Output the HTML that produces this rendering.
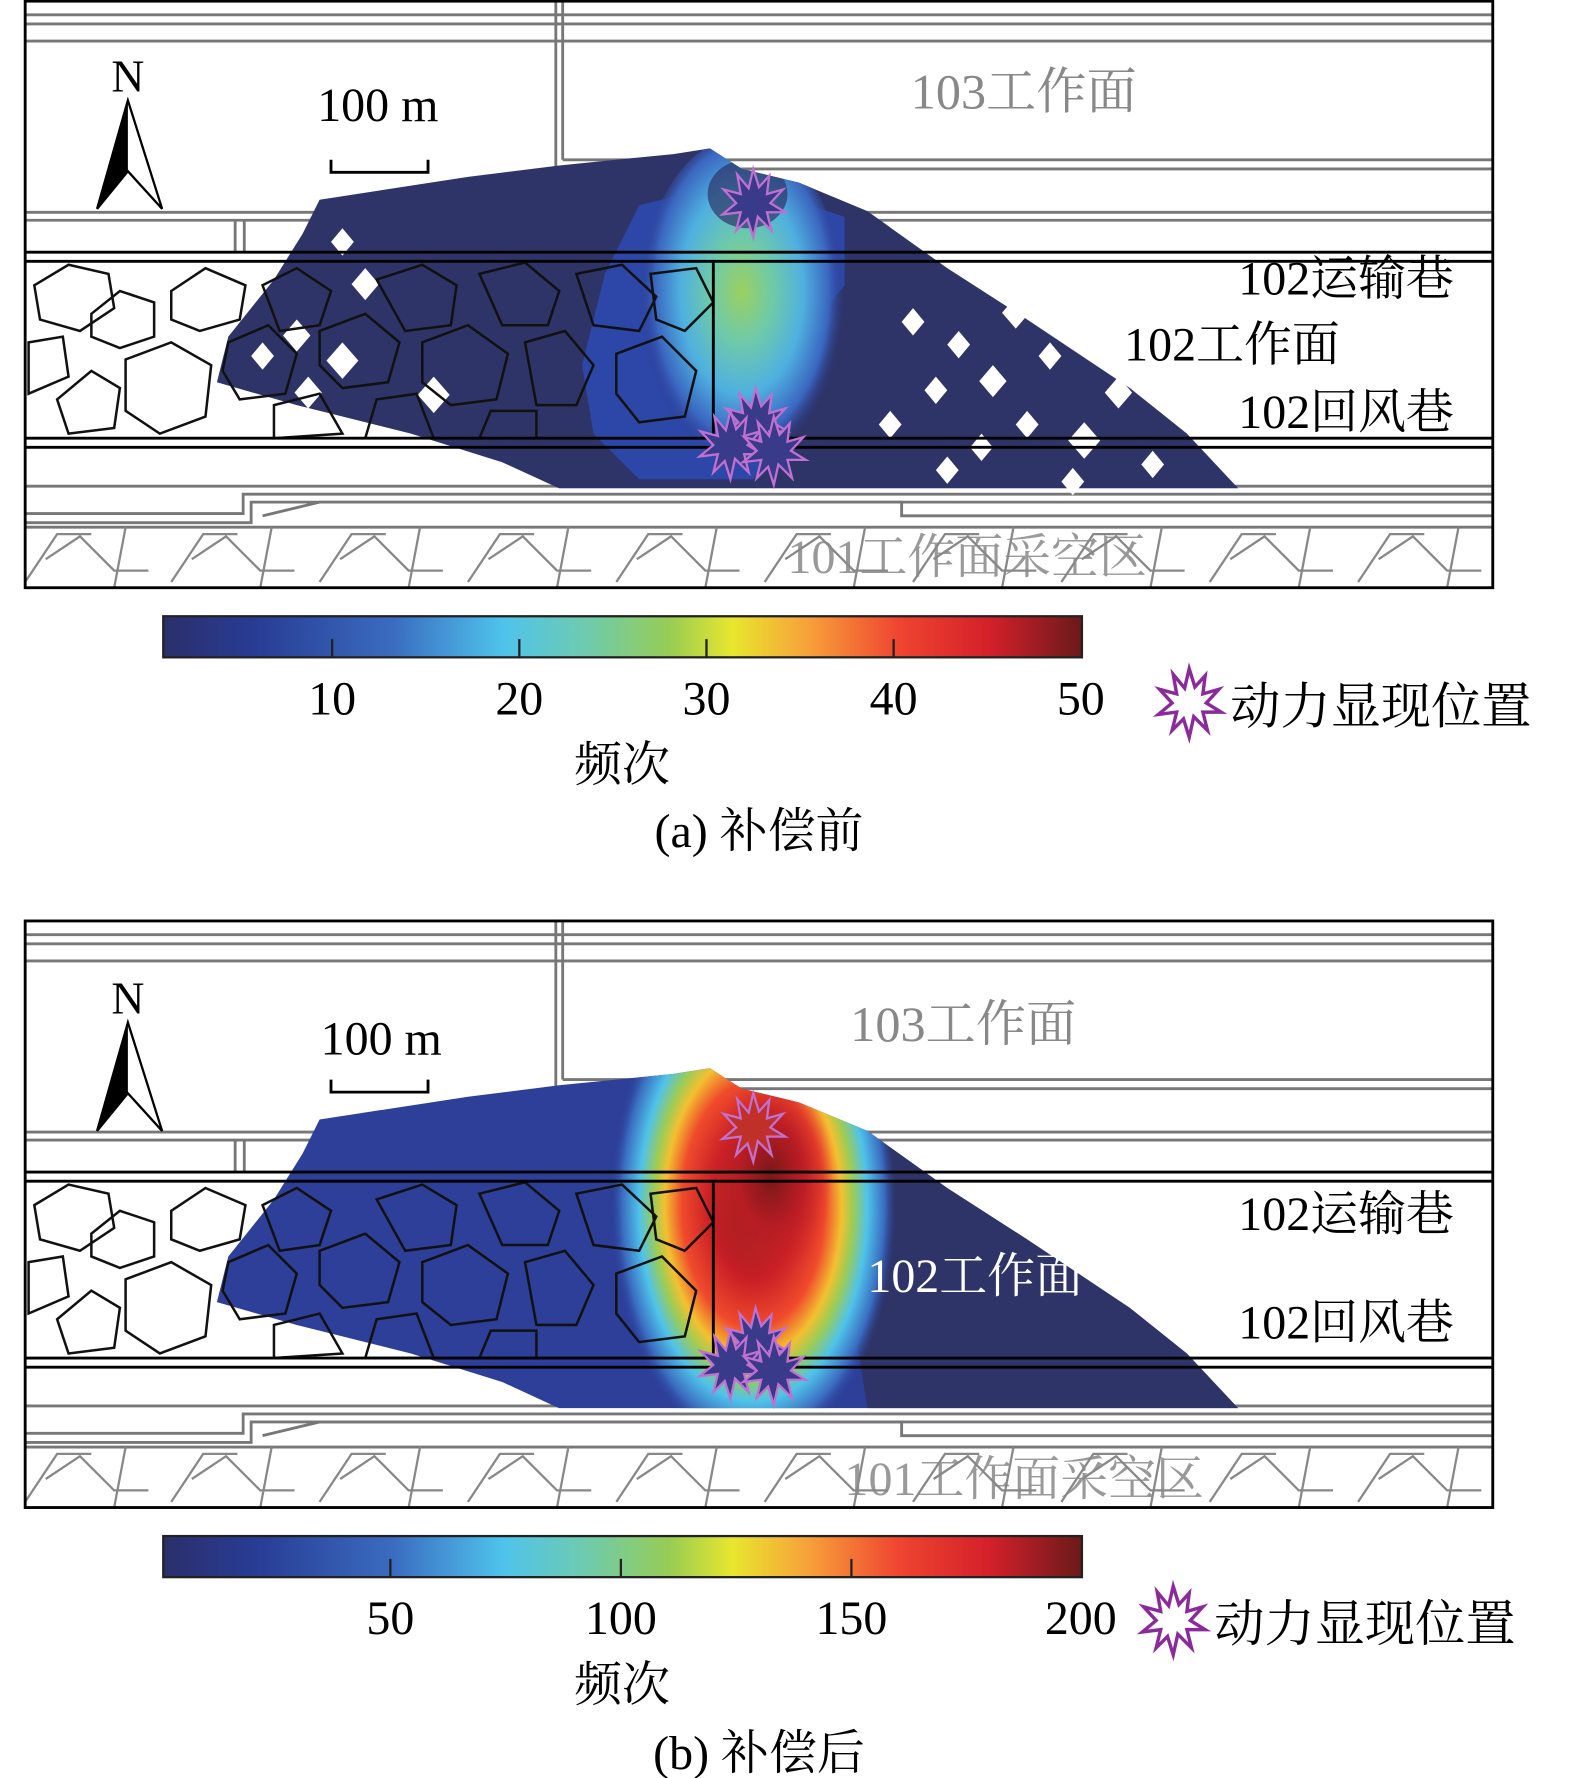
<!DOCTYPE html>
<html><head><meta charset="utf-8"><style>
html,body{margin:0;padding:0;background:#fff;}
svg{display:block;}
text{font-family:"Liberation Serif","Noto Serif CJK SC",serif;}
</style></head><body>
<svg width="1575" height="1778" viewBox="0 0 1380 1558" xmlns="http://www.w3.org/2000/svg">
<defs>
<linearGradient id="cb" x1="0" x2="1" y1="0" y2="0">
<stop offset="0" stop-color="#2b2f6b"/><stop offset="0.1" stop-color="#283c94"/>
<stop offset="0.25" stop-color="#3a6cc0"/><stop offset="0.37" stop-color="#4fc3ec"/>
<stop offset="0.46" stop-color="#6ecbae"/><stop offset="0.55" stop-color="#97cc55"/>
<stop offset="0.62" stop-color="#e8e62d"/><stop offset="0.7" stop-color="#f7a23a"/>
<stop offset="0.8" stop-color="#ef4530"/><stop offset="0.9" stop-color="#d3202a"/>
<stop offset="1" stop-color="#6a1a1a"/></linearGradient>
<radialGradient id="ha" cx="0.5" cy="0.45" r="0.5">
<stop offset="0" stop-color="#9bd060"/><stop offset="0.3" stop-color="#6fcaa8"/>
<stop offset="0.6" stop-color="#4fb0e0"/><stop offset="0.85" stop-color="#3a66c0"/>
<stop offset="1" stop-color="#2c3a8a" stop-opacity="0"/></radialGradient>
<radialGradient id="hb" cx="0.5" cy="0.5" r="0.5">
<stop offset="0" stop-color="#7a1818"/><stop offset="0.3" stop-color="#c81e26"/>
<stop offset="0.5" stop-color="#f04a2c"/><stop offset="0.62" stop-color="#f3c030"/>
<stop offset="0.7" stop-color="#9ccc55"/><stop offset="0.8" stop-color="#4fc3ea"/>
<stop offset="0.92" stop-color="#3a6cc0"/><stop offset="1" stop-color="#2e44a0" stop-opacity="0"/></radialGradient>
<radialGradient id="hc" cx="0.5" cy="0.5" r="0.5">
<stop offset="0" stop-color="#7a1818"/><stop offset="0.5" stop-color="#b81c24"/>
<stop offset="1" stop-color="#d82a28" stop-opacity="0"/></radialGradient>
<clipPath id="blob"><path d="M280,175 L410,155 L490,145 L590,135 L622,130 L650,148 L700,160 L760,185 L830,235 L900,280 L990,340 L1040,380 L1085,428 L490,428 L440,405 L360,380 L260,355 L190,335 L200,295 L240,245 L265,205 Z"/></clipPath>
<path id="star" d="M0,-30 L5,-14 L14,-24 L12,-8 L26,-12 L15,0 L28,8 L12,8 L16,24 L4,12 L0,30 L-5,14 L-15,24 L-11,8 L-27,10 L-15,0 L-26,-12 L-11,-8 L-14,-25 L-4,-13 Z"/>
<g id="base">
 <g fill="none" stroke="#777" stroke-width="2.5">
  <line x1="22" y1="13" x2="1308" y2="13"/><line x1="22" y1="21" x2="1308" y2="21"/><line x1="22" y1="36" x2="1308" y2="36"/>
  <line x1="487" y1="0" x2="487" y2="148"/><line x1="493" y1="0" x2="493" y2="140"/>
  <line x1="493" y1="140" x2="1308" y2="140"/><line x1="487" y1="148" x2="1308" y2="148"/>
  <line x1="22" y1="186" x2="1308" y2="186"/><line x1="22" y1="193" x2="1308" y2="193"/>
  <line x1="206" y1="193" x2="206" y2="220"/><line x1="214" y1="193" x2="214" y2="220"/>
  <line x1="22" y1="426" x2="1308" y2="426"/>
  <polyline points="22,450 213,450 213,433 1308,433"/>
  <polyline points="22,458 220,458 220,440 1308,440"/>
  <polyline points="230,452 280,440 790,440 790,452 1308,452"/>
  <line x1="22" y1="462" x2="1308" y2="462"/>
 </g>
 <g fill="none" stroke="#888" stroke-width="2">
  <path d="M22,510 L50,468 L80,468 M40,490 L70,470 L100,500 L130,500 M110,462 L100,515"/>
  <path d="M150,510 L178,468 L208,468 M168,490 L198,470 L228,500 L258,500 M238,462 L228,515"/>
  <path d="M280,510 L308,468 L338,468 M298,490 L328,470 L358,500 L388,500 M368,462 L358,515"/>
  <path d="M410,510 L438,468 L468,468 M428,490 L458,470 L488,500 L518,500 M498,462 L488,515"/>
  <path d="M540,510 L568,468 L598,468 M558,490 L588,470 L618,500 L648,500 M628,462 L618,515"/>
  <path d="M670,510 L698,468 L728,468 M688,490 L718,470 L748,500 L778,500 M758,462 L748,515"/>
  <path d="M800,510 L828,468 L858,468 M818,490 L848,470 L878,500 L908,500 M888,462 L878,515"/>
  <path d="M930,510 L958,468 L988,468 M948,490 L978,470 L1008,500 L1038,500 M1018,462 L1008,515"/>
  <path d="M1060,510 L1088,468 L1118,468 M1078,490 L1108,470 L1138,500 L1168,500 M1148,462 L1138,515"/>
  <path d="M1190,510 L1218,468 L1248,468 M1208,490 L1238,470 L1268,500 L1298,500 M1278,462 L1268,515"/>
 </g>
</g>
<g id="goaf" fill="none" stroke="#111" stroke-width="2.2">
 <path d="M30,250 L60,232 L95,240 L100,270 L70,290 L35,280 Z"/>
 <path d="M80,275 L105,255 L135,265 L135,295 L105,305 L80,295 Z"/>
 <path d="M150,255 L180,235 L215,250 L210,280 L175,290 L150,280 Z"/>
 <path d="M25,300 L55,295 L60,330 L25,345 Z"/>
 <path d="M50,350 L80,325 L105,340 L100,375 L60,380 Z"/>
 <path d="M110,315 L150,300 L185,320 L180,365 L140,380 L110,360 Z"/>
 <path d="M230,250 L260,235 L290,255 L280,285 L245,290 Z"/>
 <path d="M200,300 L235,285 L260,310 L250,345 L210,350 L195,325 Z"/>
 <path d="M280,290 L320,275 L350,300 L340,335 L300,340 L280,320 Z"/>
 <path d="M240,355 L280,345 L300,380 L240,384 Z"/>
 <path d="M330,245 L370,232 L400,250 L395,285 L355,290 Z"/>
 <path d="M370,300 L410,285 L445,310 L435,350 L395,355 L370,335 Z"/>
 <path d="M420,240 L460,230 L490,255 L480,285 L440,285 Z"/>
 <path d="M460,300 L495,290 L520,320 L505,355 L470,355 Z"/>
 <path d="M505,240 L545,232 L575,260 L560,290 L520,285 Z"/>
 <path d="M540,310 L580,295 L610,325 L600,365 L560,370 L540,345 Z"/>
 <path d="M570,240 L610,235 L625,265 L600,290 L575,280 Z"/>
 <path d="M330,350 L365,345 L380,384 L320,384 Z"/>
 <path d="M430,360 L470,360 L470,384 L420,384 Z"/>
</g>
</defs>

<!-- PANEL A -->
<g>
<use href="#base"/>
<g clip-path="url(#blob)">
<rect x="0" y="0" width="1380" height="520" fill="#2e3468"/>
<path d="M560,180 L620,165 L680,170 L740,190 L740,250 L700,300 L690,380 L660,420 L560,420 L520,380 L510,320 L530,240 Z" fill="#2d47a8"/>
<ellipse cx="650" cy="270" rx="90" ry="150" fill="url(#ha)"/>
<ellipse cx="655" cy="170" rx="35" ry="30" fill="#2e3468" opacity="0.7"/>
</g>
<g fill="#fff">
 <path d="M800,270 l10,12 -10,12 -10,-12Z"/><path d="M840,290 l10,12 -10,12 -10,-12Z"/><path d="M820,330 l10,12 -10,12 -10,-12Z"/>
 <path d="M870,320 l12,14 -12,14 -12,-14Z"/><path d="M900,360 l10,12 -10,12 -10,-12Z"/><path d="M780,360 l10,12 -10,12 -10,-12Z"/>
 <path d="M860,380 l10,12 -10,12 -10,-12Z"/><path d="M950,370 l14,16 -14,16 -14,-16Z"/><path d="M980,330 l12,14 -12,14 -12,-14Z"/>
 <path d="M920,300 l10,12 -10,12 -10,-12Z"/><path d="M830,400 l10,12 -10,12 -10,-12Z"/><path d="M1010,395 l10,12 -10,12 -10,-12Z"/>
 <path d="M890,260 l12,14 -12,14 -12,-14Z"/><path d="M940,410 l10,12 -10,12 -10,-12Z"/>
 <path d="M300,200 l10,12 -10,12 -10,-12Z"/><path d="M320,235 l12,14 -12,14 -12,-14Z"/><path d="M260,280 l12,14 -12,14 -12,-14Z"/>
 <path d="M300,300 l14,16 -14,16 -14,-16Z"/><path d="M380,330 l14,16 -14,16 -14,-16Z"/><path d="M230,300 l10,12 -10,12 -10,-12Z"/>
 <path d="M270,330 l12,14 -12,14 -12,-14Z"/>
</g>
<use href="#goaf"/>
<g stroke="#000" stroke-width="2.5" fill="none">
 <line x1="22" y1="221" x2="1308" y2="221"/><line x1="22" y1="229" x2="1308" y2="229"/>
 <line x1="22" y1="384" x2="1308" y2="384"/><line x1="22" y1="392" x2="1308" y2="392"/>
 <line x1="625" y1="229" x2="625" y2="384"/>
 <rect x="22" y="1" width="1286" height="514"/>
</g>
<g fill="#3a3a8a" stroke="#c070d0" stroke-width="2">
 <use href="#star" x="660" y="178"/>
 <use href="#star" x="662" y="370"/><use href="#star" x="640" y="390"/><use href="#star" x="678" y="395"/>
</g>
<text x="112" y="80" font-size="40" text-anchor="middle">N</text>
<path d="M112,88 L85,183 L112,150 L142,183 Z" fill="#fff" stroke="#000" stroke-width="2"/><path d="M112,88 L85,183 L112,150 Z"/>
<text x="331" y="106" font-size="42" text-anchor="middle">100 m</text>
<path d="M290,140 L290,151 L375,151 L375,140" fill="none" stroke="#000" stroke-width="2.5"/>
<text x="798" y="95" font-size="44" fill="#888">103工作面</text>
<text x="1085" y="258" font-size="42">102运输巷</text>
<text x="985" y="316" font-size="42">102工作面</text>
<text x="1085" y="375" font-size="42">102回风巷</text>
<text x="690" y="502" font-size="42" fill="#888" opacity="0.85">101工作面采空区</text>
<rect x="143" y="540" width="805" height="36" fill="url(#cb)" stroke="#222" stroke-width="2"/>
<g stroke="#222" stroke-width="2"><line x1="291" y1="560" x2="291" y2="576"/><line x1="455" y1="560" x2="455" y2="576"/><line x1="619" y1="560" x2="619" y2="576"/><line x1="783" y1="560" x2="783" y2="576"/></g>
<g font-size="42" text-anchor="middle"><text x="291" y="626">10</text><text x="455" y="626">20</text><text x="619" y="626">30</text><text x="783" y="626">40</text><text x="947" y="626">50</text></g>
<use href="#star" x="1042" y="616" fill="#fff" stroke="#8b2a9b" stroke-width="3"/>
<text x="1078" y="634" font-size="44">动力显现位置</text>
<text x="545" y="684" font-size="42" text-anchor="middle">频次</text>
<text x="665" y="742" font-size="42" text-anchor="middle">(a) 补偿前</text>
</g>

<!-- PANEL B -->
<g transform="translate(0,806)">
<use href="#base"/>
<g clip-path="url(#blob)">
<rect x="0" y="0" width="1380" height="520" fill="#2d3f99"/>
<path d="M760,185 L830,235 L900,280 L990,340 L1040,380 L1085,428 L760,428 L740,300 Z" fill="#2e3468"/>
<ellipse cx="660" cy="250" rx="125" ry="215" fill="url(#hb)"/>
<ellipse cx="675" cy="225" rx="55" ry="90" fill="url(#hc)"/>
</g>
<use href="#goaf"/>
<g stroke="#000" stroke-width="2.5" fill="none">
 <line x1="22" y1="221" x2="1308" y2="221"/><line x1="22" y1="229" x2="1308" y2="229"/>
 <line x1="22" y1="384" x2="1308" y2="384"/><line x1="22" y1="392" x2="1308" y2="392"/>
 <line x1="625" y1="229" x2="625" y2="384"/>
 <rect x="22" y="1" width="1286" height="514"/>
</g>
<g fill="#c03028" stroke="#c070d0" stroke-width="2">
 <use href="#star" x="660" y="182"/>
</g>
<g fill="#3a3a8a" stroke="#c070d0" stroke-width="2">
 <use href="#star" x="662" y="370"/><use href="#star" x="640" y="390"/><use href="#star" x="678" y="395"/>
</g>
<text x="112" y="82" font-size="40" text-anchor="middle">N</text>
<path d="M112,90 L85,185 L112,152 L142,185 Z" fill="#fff" stroke="#000" stroke-width="2"/><path d="M112,90 L85,185 L112,152 Z"/>
<text x="334" y="118" font-size="42" text-anchor="middle">100 m</text>
<path d="M290,140 L290,151 L375,151 L375,140" fill="none" stroke="#000" stroke-width="2.5"/>
<text x="745" y="106" font-size="44" fill="#888">103工作面</text>
<text x="1085" y="272" font-size="42">102运输巷</text>
<text x="760" y="326" font-size="42" fill="#fff">102工作面</text>
<text x="1085" y="367" font-size="42">102回风巷</text>
<text x="740" y="504" font-size="42" fill="#888" opacity="0.85">101工作面采空区</text>
<rect x="143" y="540" width="805" height="36" fill="url(#cb)" stroke="#222" stroke-width="2"/>
<g stroke="#222" stroke-width="2"><line x1="342" y1="560" x2="342" y2="576"/><line x1="544" y1="560" x2="544" y2="576"/><line x1="746" y1="560" x2="746" y2="576"/></g>
<g font-size="42" text-anchor="middle"><text x="342" y="626">50</text><text x="544" y="626">100</text><text x="746" y="626">150</text><text x="947" y="626">200</text></g>
<use href="#star" x="1028" y="614" fill="#fff" stroke="#8b2a9b" stroke-width="3"/>
<text x="1064" y="632" font-size="44">动力显现位置</text>
<text x="545" y="684" font-size="42" text-anchor="middle">频次</text>
<text x="665" y="744" font-size="42" text-anchor="middle">(b) 补偿后</text>
</g>
</svg>
</body></html>
